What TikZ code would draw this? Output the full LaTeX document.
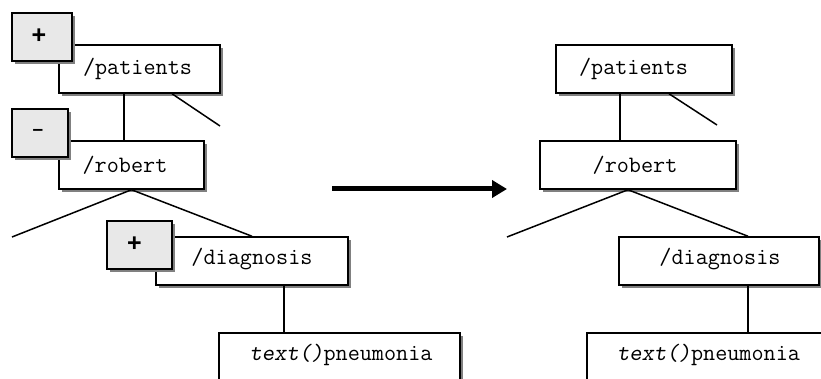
\documentclass[tikz,border=0pt]{standalone}
\usepackage{fontspec}
\setmainfont{Liberation Serif}
\newfontfamily\signfont{Liberation Sans}
\usetikzlibrary{arrows.meta,shadows}
\tikzset{
  tbox/.style={draw=black, fill=white, line width=1.5pt, minimum height=48pt, inner sep=0pt,
    drop shadow={shadow xshift=3pt, shadow yshift=-3pt, fill=black!50, opacity=1}},
  sbox/.style={tbox, fill=black!9},
  ttext/.style={font=\ttfamily\fontsize{23.5}{25}\selectfont, inner sep=0pt, anchor=center},
  stext/.style={font=\signfont\bfseries\fontsize{25}{27}\selectfont, inner sep=0pt},
  conn/.style={line width=1.5pt},
  bigarrow/.style={line width=5pt, -{Triangle[length=15pt,width=17pt]}}
}
\begin{document}
\begin{tikzpicture}[x=1pt,y=-1pt]
\useasboundingbox (0,0) rectangle (821,379);
\clip (0,0) rectangle (821,379);
% ---------- left tree ----------
\node[tbox, minimum width=161pt] (pl) at (139.5,69) {};
\node[tbox, minimum width=145pt] (rl) at (131.5,165) {};
\node[tbox, minimum width=192pt] (dl) at (252,261) {};
\node[tbox, minimum width=241pt] (tl) at (339.5,357) {};
\node[sbox, minimum width=60pt] (s1) at (42,37) {};
\node[sbox, minimum width=56pt] (s2) at (40,133) {};
\node[sbox, minimum width=65pt] (s3) at (139.5,245) {};
\node[stext] (s1t) at ([xshift=-3pt,yshift=1pt]s1) {+};
\node[stext, font=\signfont\bfseries\fontsize{19}{21}\selectfont] (s2t) at ([xshift=-2pt,yshift=1pt]s2) {–};
\node[stext] (s3t) at ([xshift=-5pt,yshift=1pt]s3) {+};
\node[ttext] (plt) at (137.5,69) {/patients};
\node[ttext] (rlt) at (125,165) {/robert};
\node[ttext] (dlt) at (252,259) {/diagnosis};
\node[ttext] (tlt) at (341,355) {\slshape text()\upshape pneumonia};
\coordinate (pl1) at (220,126);
\coordinate (rl1) at (12,237);
\draw[conn] ([xshift=-15.5pt]pl.south) -- ([xshift=-7.5pt]rl.north);
\draw[conn] ([xshift=32.5pt]pl.south) -- (pl1);
\draw[conn] (rl.south) -- (rl1);
\draw[conn] (rl.south) -- (dl.north);
\draw[conn] ([xshift=32pt]dl.south) -- ([xshift=-55.5pt]tl.north);
% ---------- arrow ----------
\coordinate (a0) at (332,189);
\coordinate (a1) at (507,189);
\draw[bigarrow] (a0) -- (a1);
% ---------- right tree ----------
\node[tbox, minimum width=176pt] (pr) at (644,69) {};
\node[tbox, minimum width=196pt] (rr) at (638,165) {};
\node[tbox, minimum width=200pt] (dr) at (719,261) {};
\node[tbox, minimum width=241pt] (tr) at (707.5,357) {};
\node[ttext] (prt) at (633.5,69) {/patients};
\node[ttext] (rrt) at (635,165) {/robert};
\node[ttext] (drt) at (720,259) {/diagnosis};
\node[ttext] (trt) at (708.5,355) {\slshape text()\upshape pneumonia};
\coordinate (pr1) at (717,125);
\coordinate (rr1) at (507,237);
\draw[conn] ([xshift=-24pt]pr.south) -- ([xshift=-18pt]rr.north);
\draw[conn] ([xshift=25pt]pr.south) -- (pr1);
\draw[conn] ([xshift=-10pt]rr.south) -- (rr1);
\draw[conn] ([xshift=-10pt]rr.south) -- ([xshift=29pt]dr.north);
\draw[conn] ([xshift=29pt]dr.south) -- ([xshift=40.5pt]tr.north);
\end{tikzpicture}
\end{document}
